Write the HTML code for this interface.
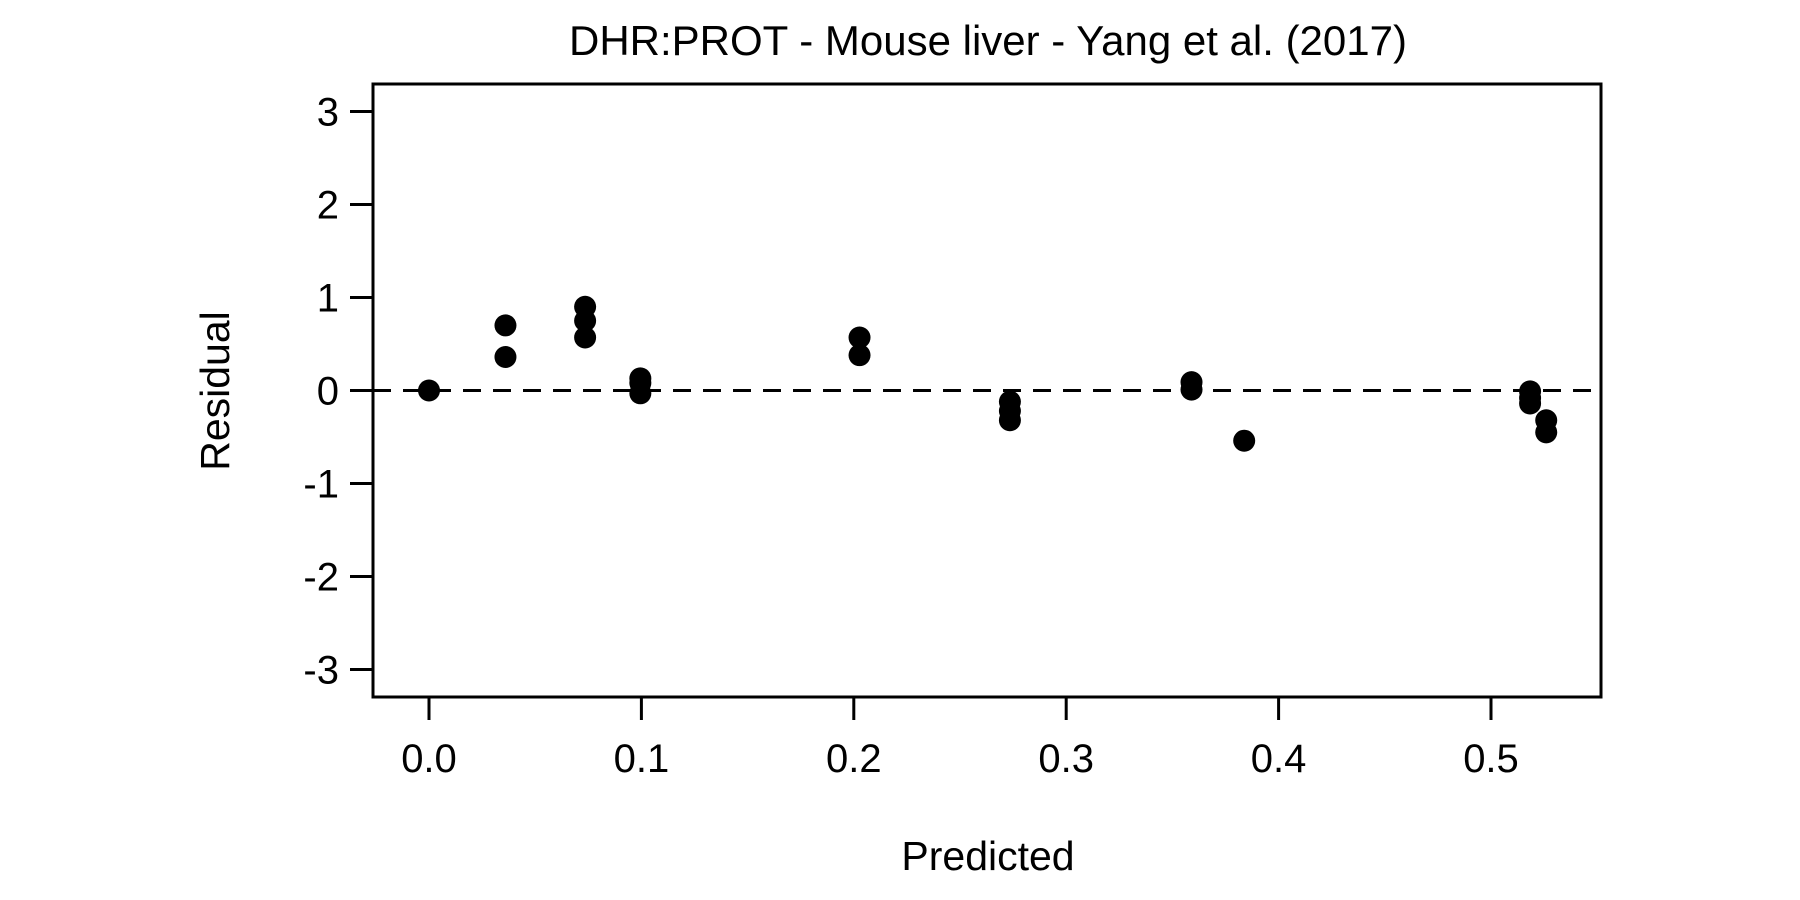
<!DOCTYPE html>
<html><head><meta charset="utf-8"><style>
html,body{margin:0;padding:0;background:#fff;}
svg{display:block;font-family:"Liberation Sans",Arial,sans-serif;}
</style></head><body>
<svg id="chart" width="1800" height="900" viewBox="0 0 1800 900">
<text x="988" y="55" text-anchor="middle" font-size="42">DHR:PROT - Mouse liver - Yang et al. (2017)</text>
<rect x="373" y="84" width="1228" height="613" fill="none" stroke="#000" stroke-width="3"/>
<g id="yaxis"></g>
<g id="xaxis"></g>
<line id="zero" stroke="#000" stroke-width="3" stroke-dasharray="18,12"/>
<g id="pts"></g>
<text x="988" y="870" text-anchor="middle" font-size="41">Predicted</text>
<text transform="translate(229,391) rotate(-90)" text-anchor="middle" font-size="41">Residual</text>
</svg>
<script>
const xTicks = [0.0, 0.1, 0.2, 0.3, 0.4, 0.5];
const xTickLabels = ["0.0", "0.1", "0.2", "0.3", "0.4", "0.5"];
const yTicks = [3, 2, 1, 0, -1, -2, -3];
const yTickLabels = ["3", "2", "1", "0", "-1", "-2", "-3"];
const predicted = [0, 0.036, 0.036, 0.0735, 0.0735, 0.0735, 0.0995, 0.0995, 0.0995, 0.2027, 0.2027, 0.2735, 0.2735, 0.2735, 0.359, 0.359, 0.3838, 0.5184, 0.5184, 0.5184, 0.526, 0.526];
const residual = [0, 0.70, 0.36, 0.90, 0.75, 0.57, 0.13, 0.08, -0.03, 0.57, 0.38, -0.12, -0.22, -0.32, 0.09, 0.01, -0.54, -0.01, -0.08, -0.14, -0.32, -0.45];

const NS = "http://www.w3.org/2000/svg";
const L = 373, R = 1601, T = 84, B = 697;
function xs(v){ return 429 + v * 2124; }
function ys(v){ return 390.5 - v * 93; }

const ya = document.getElementById('yaxis');
yTicks.forEach((t, i) => {
  const l = document.createElementNS(NS, 'line');
  l.setAttribute('x1', L - 23); l.setAttribute('x2', L);
  l.setAttribute('y1', ys(t)); l.setAttribute('y2', ys(t));
  l.setAttribute('stroke', '#000'); l.setAttribute('stroke-width', '3');
  
  
  ya.appendChild(l);
  const tx = document.createElementNS(NS, 'text');
  tx.setAttribute('x', L - 34); tx.setAttribute('y', ys(t) + 14);
  tx.setAttribute('text-anchor', 'end'); tx.setAttribute('font-size', '40');
  tx.textContent = yTickLabels[i];
  
  
  ya.appendChild(tx);
});
const xa = document.getElementById('xaxis');
xTicks.forEach((t, i) => {
  const l = document.createElementNS(NS, 'line');
  l.setAttribute('x1', xs(t)); l.setAttribute('x2', xs(t));
  l.setAttribute('y1', B); l.setAttribute('y2', B + 23);
  l.setAttribute('stroke', '#000'); l.setAttribute('stroke-width', '3');
  
  
  xa.appendChild(l);
  const tx = document.createElementNS(NS, 'text');
  tx.setAttribute('x', xs(t)); tx.setAttribute('y', B + 75);
  tx.setAttribute('text-anchor', 'middle'); tx.setAttribute('font-size', '40');
  tx.textContent = xTickLabels[i];
  
  
  xa.appendChild(tx);
});
const z = document.getElementById('zero');
z.setAttribute('x1', L); z.setAttribute('x2', R);
z.setAttribute('y1', ys(0)); z.setAttribute('y2', ys(0));

const pg = document.getElementById('pts');
predicted.forEach((p, i) => {
  const c = document.createElementNS(NS, 'circle');
  c.setAttribute('cx', xs(p)); c.setAttribute('cy', ys(residual[i]));
  c.setAttribute('r', '11'); c.setAttribute('fill', '#000');
  
  
  pg.appendChild(c);
});
</script>
</body></html>
